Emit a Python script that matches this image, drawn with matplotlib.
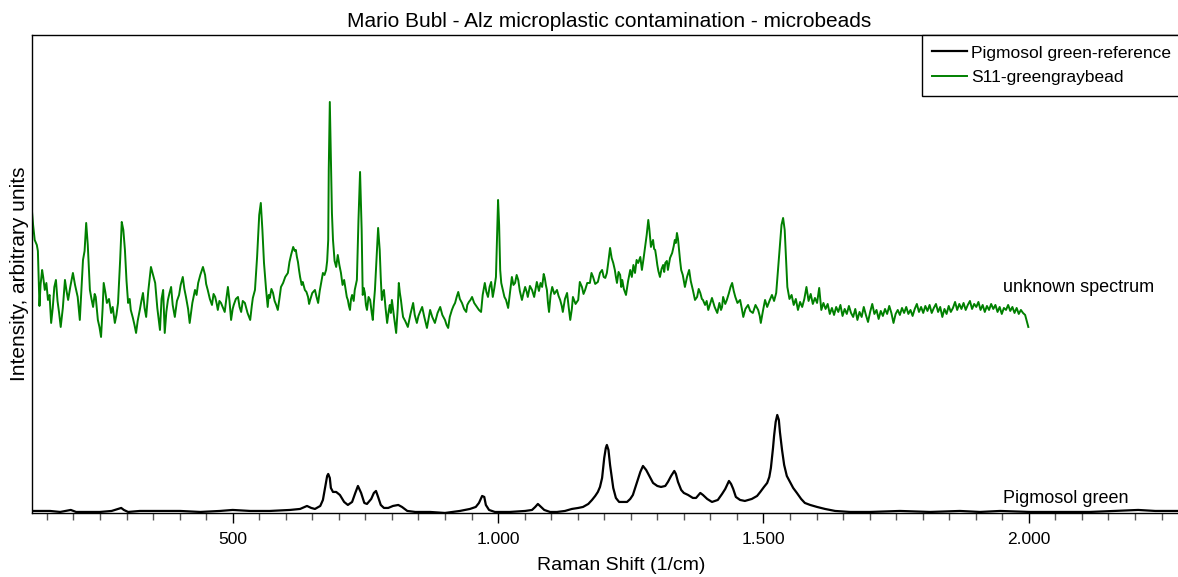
import numpy as np
import matplotlib
matplotlib.use("Agg")
import matplotlib.pyplot as plt
from matplotlib.ticker import MultipleLocator, FuncFormatter

plt.rcParams['font.family'] = ['Liberation Sans', 'DejaVu Sans']

# Raman spectra: (shift in 1/cm, intensity in arbitrary units)
sample_points = [
    (122, 301), (124, 288), (127, 273), (131, 268), (133, 262), (136, 207), (138, 228), (141, 243), (143, 236), (146, 223),
    (149, 230), (152, 213), (155, 218), (158, 190), (161, 205), (164, 226), (167, 233), (170, 212), (173, 200), (176, 186),
    (180, 205), (184, 233), (187, 222), (190, 213), (194, 226), (199, 240), (203, 228), (208, 216), (212, 193), (215, 222),
    (218, 253), (221, 262), (224, 290), (227, 268), (231, 223), (234, 214), (237, 206), (240, 219), (242, 216), (246, 193),
    (249, 186), (252, 176), (255, 205), (257, 230), (260, 221), (263, 210), (267, 214), (271, 200), (274, 206), (278, 190),
    (281, 198), (284, 210), (288, 253), (291, 291), (294, 283), (297, 263), (300, 232), (303, 210), (306, 214), (308, 203),
    (312, 195), (315, 188), (318, 180), (321, 192), (325, 203), (328, 212), (331, 220), (334, 205), (337, 196), (341, 222),
    (346, 246), (350, 238), (354, 230), (358, 205), (361, 192), (363, 183), (366, 214), (369, 223), (372, 180), (375, 201),
    (378, 213), (381, 220), (384, 226), (387, 208), (391, 196), (395, 212), (399, 218), (402, 228), (406, 236), (409, 224),
    (412, 216), (416, 204), (419, 190), (424, 210), (429, 223), (432, 218), (435, 230), (439, 238), (444, 246), (448, 238),
    (450, 229), (453, 223), (457, 214), (461, 208), (464, 219), (467, 216), (470, 209), (472, 203), (475, 212), (478, 210),
    (482, 205), (485, 201), (488, 214), (491, 226), (494, 212), (497, 193), (500, 204), (502, 208), (506, 214), (510, 216),
    (513, 206), (516, 201), (519, 212), (523, 210), (528, 200), (533, 193), (536, 207), (538, 215), (542, 223), (546, 256),
    (550, 298), (553, 310), (556, 283), (559, 250), (563, 223), (566, 206), (568, 218), (570, 215), (573, 224), (576, 220),
    (579, 212), (582, 208), (585, 203), (588, 214), (591, 226), (595, 230), (599, 236), (604, 240), (607, 251), (610, 258),
    (614, 266), (617, 262), (619, 263), (621, 256), (623, 251), (625, 243), (627, 236), (630, 228), (632, 231), (636, 223),
    (639, 221), (642, 216), (644, 209), (646, 213), (650, 220), (655, 223), (658, 216), (661, 210), (664, 222), (666, 228),
    (670, 240), (673, 238), (676, 243), (678, 252), (680, 273), (681, 343), (683, 411), (685, 353), (687, 300), (689, 273),
    (692, 252), (695, 246), (698, 258), (701, 248), (704, 240), (707, 228), (710, 233), (713, 223), (715, 216), (717, 213),
    (719, 207), (721, 203), (723, 214), (725, 218), (728, 212), (730, 223), (734, 233), (737, 293), (740, 341), (743, 283),
    (745, 218), (747, 225), (749, 220), (751, 208), (753, 203), (756, 216), (759, 213), (762, 200), (764, 193), (766, 210),
    (768, 223), (772, 263), (774, 285), (777, 263), (779, 235), (781, 213), (783, 220), (785, 223), (788, 205), (791, 190),
    (794, 202), (796, 208), (798, 200), (800, 213), (804, 196), (808, 180), (811, 205), (813, 230), (815, 220), (817, 213),
    (819, 204), (821, 196), (825, 192), (830, 186), (835, 199), (840, 210), (843, 198), (847, 190), (850, 197), (853, 201),
    (857, 206), (861, 196), (866, 185), (869, 194), (872, 203), (876, 196), (881, 190), (886, 200), (891, 206), (895, 198),
    (900, 193), (903, 188), (906, 185), (909, 196), (913, 203), (916, 207), (919, 210), (922, 216), (925, 221), (928, 214),
    (932, 210), (936, 204), (940, 201), (942, 208), (945, 211), (948, 213), (951, 216), (955, 210), (960, 206), (964, 203),
    (968, 201), (971, 218), (975, 230), (978, 221), (981, 216), (984, 226), (987, 231), (990, 216), (993, 225), (996, 236),
    (998, 273), (1000, 313), (1002, 288), (1004, 243), (1006, 230), (1009, 223), (1012, 216), (1015, 213), (1017, 209), (1019, 205),
    (1021, 214), (1023, 223), (1026, 236), (1029, 228), (1032, 230), (1035, 238), (1038, 233), (1041, 222), (1045, 213), (1048, 220),
    (1051, 226), (1054, 221), (1056, 216), (1060, 227), (1064, 223), (1068, 216), (1073, 231), (1077, 222), (1080, 230), (1083, 226),
    (1086, 239), (1088, 235), (1090, 228), (1092, 223), (1094, 210), (1096, 201), (1099, 218), (1102, 226), (1106, 219), (1111, 223),
    (1114, 217), (1117, 213), (1120, 207), (1122, 201), (1126, 214), (1130, 220), (1133, 206), (1136, 193), (1139, 204), (1141, 216),
    (1146, 209), (1151, 213), (1154, 231), (1158, 226), (1161, 219), (1164, 223), (1168, 230), (1173, 230), (1176, 240), (1179, 236),
    (1183, 229), (1188, 231), (1192, 240), (1196, 243), (1199, 236), (1202, 235), (1205, 240), (1208, 252), (1211, 265), (1214, 255),
    (1217, 250), (1220, 243), (1222, 236), (1224, 230), (1227, 241), (1230, 238), (1232, 226), (1234, 233), (1237, 224), (1241, 218),
    (1245, 232), (1249, 243), (1252, 236), (1255, 248), (1258, 240), (1261, 253), (1264, 250), (1268, 256), (1271, 243), (1274, 254),
    (1277, 266), (1280, 278), (1283, 293), (1285, 284), (1286, 278), (1288, 266), (1290, 270), (1292, 273), (1294, 264), (1296, 263),
    (1298, 256), (1300, 248), (1302, 242), (1305, 236), (1308, 244), (1311, 248), (1313, 241), (1315, 250), (1318, 252), (1320, 243),
    (1324, 255), (1328, 260), (1331, 267), (1333, 273), (1335, 270), (1337, 280), (1339, 274), (1341, 263), (1343, 252), (1345, 243),
    (1348, 238), (1350, 232), (1352, 226), (1356, 236), (1360, 243), (1363, 232), (1367, 223), (1371, 213), (1375, 216), (1378, 224),
    (1381, 220), (1384, 214), (1386, 213), (1390, 208), (1393, 212), (1396, 203), (1400, 210), (1403, 215), (1408, 206), (1413, 200),
    (1417, 210), (1420, 203), (1422, 206), (1424, 216), (1428, 209), (1431, 213), (1435, 220), (1438, 226), (1441, 230), (1444, 222),
    (1447, 216), (1451, 210), (1456, 213), (1459, 205), (1462, 196), (1466, 204), (1471, 208), (1475, 202), (1480, 200), (1485, 208),
    (1490, 203), (1493, 197), (1495, 190), (1499, 202), (1503, 213), (1507, 206), (1512, 213), (1516, 218), (1520, 212), (1524, 220),
    (1527, 240), (1531, 268), (1534, 288), (1537, 295), (1540, 283), (1543, 248), (1545, 226), (1549, 214), (1553, 218), (1557, 208),
    (1561, 214), (1565, 203), (1569, 211), (1573, 206), (1577, 214), (1581, 226), (1585, 212), (1589, 219), (1593, 209), (1597, 215),
    (1601, 210), (1605, 225), (1609, 203), (1613, 210), (1617, 204), (1621, 209), (1625, 199), (1629, 205), (1633, 198), (1637, 206),
    (1641, 201), (1645, 208), (1649, 197), (1653, 204), (1657, 199), (1661, 207), (1665, 200), (1669, 196), (1673, 204), (1677, 193),
    (1681, 201), (1685, 196), (1689, 206), (1693, 198), (1697, 191), (1701, 201), (1705, 209), (1709, 199), (1713, 203), (1717, 194),
    (1721, 202), (1725, 197), (1729, 204), (1733, 199), (1737, 207), (1741, 200), (1745, 190), (1749, 199), (1753, 203), (1757, 198),
    (1761, 205), (1765, 200), (1769, 206), (1773, 199), (1777, 203), (1781, 197), (1785, 204), (1789, 209), (1793, 201), (1797, 206),
    (1801, 200), (1805, 207), (1809, 202), (1813, 208), (1817, 200), (1821, 205), (1825, 209), (1829, 201), (1833, 206), (1837, 196),
    (1841, 204), (1845, 199), (1849, 207), (1853, 201), (1857, 205), (1861, 211), (1865, 203), (1869, 209), (1873, 204), (1877, 210),
    (1881, 203), (1885, 208), (1889, 212), (1893, 204), (1897, 209), (1901, 206), (1905, 211), (1909, 203), (1913, 208), (1917, 201),
    (1921, 207), (1925, 203), (1929, 209), (1933, 204), (1937, 208), (1941, 201), (1945, 206), (1949, 199), (1953, 205), (1957, 203),
    (1961, 208), (1965, 202), (1969, 206), (1973, 200), (1977, 205), (1981, 199), (1985, 203), (1989, 200), (1993, 198), (1996, 192),
    (1999, 186),
]

reference_shift = [
    122, 156, 175, 195, 205, 250, 272, 284, 290, 295, 303, 325, 363, 401, 439, 476, 500, 533, 570, 608,
    627, 640, 648, 655, 665, 670, 674, 678, 680, 683, 685, 689, 695, 702, 710, 717, 725, 731, 736, 742,
    748, 753, 761, 766, 770, 774, 779, 785, 793, 802, 812, 819, 829, 844, 872, 900, 928, 947, 958, 964,
    970, 974, 977, 983, 994, 1022, 1051, 1064, 1070, 1075, 1081, 1087, 1098, 1111, 1126, 1139, 1151, 1160, 1170, 1177,
    1183, 1188, 1192, 1196, 1200, 1203, 1205, 1208, 1211, 1217, 1222, 1228, 1235, 1243, 1249, 1254, 1262, 1268, 1273, 1279,
    1285, 1292, 1300, 1307, 1315, 1320, 1326, 1332, 1335, 1339, 1345, 1350, 1358, 1367, 1373, 1381, 1386, 1394, 1403, 1414,
    1422, 1428, 1435, 1439, 1443, 1448, 1456, 1465, 1478, 1488, 1494, 1501, 1507, 1511, 1514, 1518, 1520, 1523, 1526, 1529,
    1531, 1535, 1539, 1544, 1550, 1556, 1563, 1571, 1578, 1588, 1601, 1616, 1635, 1663, 1701, 1757, 1814, 1870, 1908, 1946,
    2002, 2059, 2115, 2162, 2206, 2238, 2281,
]
reference_intensity = [
    2, 2, 1, 3, 1, 1, 2, 4, 5, 3, 1, 2, 2, 2, 1, 2, 3, 2, 2, 3,
    4, 7, 5, 4, 7, 13, 25, 37, 39, 35, 25, 21, 21, 18, 11, 8, 11, 20, 27, 20,
    10, 9, 14, 20, 22, 16, 8, 5, 5, 7, 8, 6, 2, 1, 1, 0, 2, 4, 6, 10,
    17, 16, 8, 3, 1, 1, 2, 3, 6, 9, 6, 3, 1, 1, 2, 4, 5, 6, 9, 13,
    17, 21, 26, 35, 55, 65, 68, 63, 48, 25, 15, 11, 11, 11, 14, 18, 31, 41, 47, 43,
    37, 30, 27, 26, 27, 31, 37, 42, 39, 31, 23, 20, 18, 15, 15, 20, 18, 14, 11, 13,
    19, 24, 32, 29, 24, 16, 13, 12, 14, 17, 21, 26, 30, 36, 45, 65, 77, 91, 98, 93,
    81, 63, 48, 37, 31, 25, 20, 14, 10, 8, 6, 4, 2, 1, 1, 2, 1, 2, 1, 2,
    1, 1, 1, 2, 3, 2, 2,
]

series_names = ['Pigmosol green-reference', 'S11-greengraybead']
title = 'Mario Bubl - Alz microplastic contamination - microbeads'

sample_shift = [p[0] for p in sample_points]
sample_intensity = [p[1] for p in sample_points]

fig = plt.figure(figsize=(11.78, 5.77), dpi=100)
ax = fig.add_axes([0.0272, 0.111, 0.9728, 0.8284])

ax.plot(reference_shift, reference_intensity, color='black', lw=1.6, label=series_names[0])
ax.plot(sample_shift, sample_intensity, color='#008000', lw=1.4, label=series_names[1])

ax.set_xlim(122, 2281)
ax.set_ylim(0, 478)
ax.set_yticks([])
ax.spines['right'].set_visible(False)
for s in ['left', 'top', 'bottom']:
    ax.spines[s].set_linewidth(1.0)

ax.xaxis.set_major_locator(MultipleLocator(500))
ax.xaxis.set_minor_locator(MultipleLocator(50))
ax.xaxis.set_major_formatter(FuncFormatter(lambda v, p: f'{int(v):,}'.replace(',', '.')))
ax.tick_params(axis='x', which='major', length=7, width=1, labelsize=12.5, pad=6.5)
ax.tick_params(axis='x', which='minor', length=5, width=1, color='#555555')

ax.set_xlabel('Raman Shift (1/cm)', fontsize=14)
ax.xaxis.set_label_coords(0.514, -0.093)
ax.set_ylabel('Intensity, arbitrary units', fontsize=15, labelpad=2)
ax.set_title(title, fontsize=15, pad=6, x=0.504)

ax.text(1951, 225, 'unknown spectrum', fontsize=13, va='center', ha='left')
ax.text(1951, 14, 'Pigmosol green', fontsize=13, va='center', ha='left')

leg = ax.legend(loc='upper right', fontsize=12.5, frameon=True, fancybox=False,
                framealpha=1, edgecolor='black', borderaxespad=0, handlelength=2.0,
                handletextpad=0.25, labelspacing=0.55, borderpad=0.6,
                bbox_to_anchor=(1.003, 1.0))
leg.get_frame().set_linewidth(1.0)

fig.savefig('out.png', dpi=100)
